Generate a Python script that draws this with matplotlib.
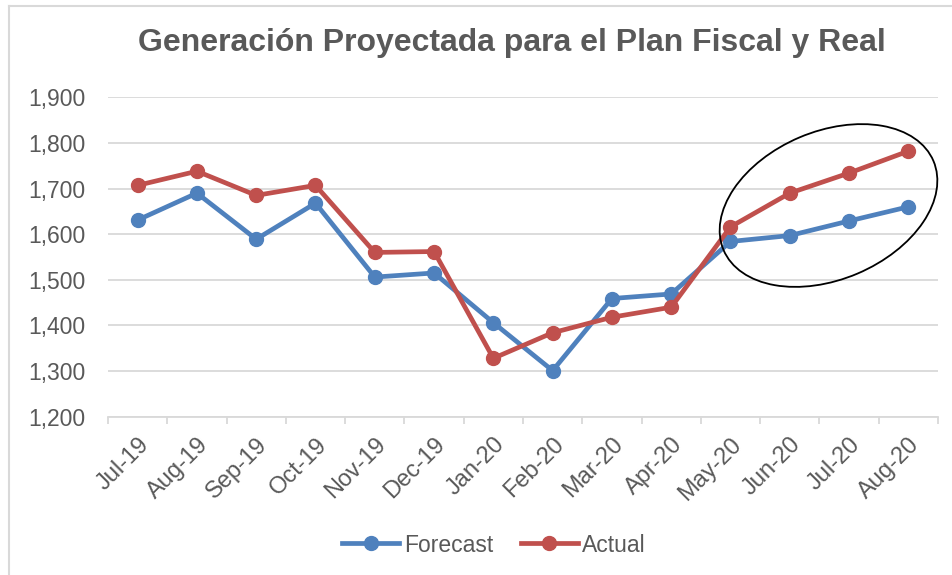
import matplotlib.pyplot as plt
from matplotlib.patches import Ellipse
from matplotlib.lines import Line2D
from matplotlib.ticker import FuncFormatter, FixedLocator

plt.rcParams['font.family'] = ['Liberation Sans', 'DejaVu Sans']

months = ['Jul-19', 'Aug-19', 'Sep-19', 'Oct-19', 'Nov-19', 'Dec-19', 'Jan-20',
          'Feb-20', 'Mar-20', 'Apr-20', 'May-20', 'Jun-20', 'Jul-20', 'Aug-20']
forecast = [1631, 1690, 1589, 1668, 1506, 1515, 1406,
            1301, 1459, 1469, 1584, 1597, 1629, 1660]
actual = [1707, 1738, 1685, 1707, 1560, 1562, 1328,
          1384, 1418, 1440, 1616, 1690, 1734, 1782]

W, H = 953, 575
fig = plt.figure(figsize=(W / 100, H / 100), dpi=100)
ax = fig.add_axes([108 / W, (H - 416.7) / H, (938 - 108) / W, (416.7 - 97.3) / H])

gray = '#595959'
blue = '#4F81BD'
red = '#C0504D'

x = list(range(len(months)))
ax.plot(x, forecast, color=blue, lw=3.4, marker='o', ms=10, zorder=3)
ax.plot(x, actual, color=red, lw=3.4, marker='o', ms=10, zorder=4)

ax.set_xlim(-0.5, len(months) - 0.5)
ax.set_ylim(1200, 1900)
ax.set_yticks(range(1200, 1901, 100))
ax.yaxis.set_major_formatter(FuncFormatter(lambda v, p: f'{int(v):,}'))
ax.grid(axis='y', color='#D9D9D9', lw=1.3)
ax.set_axisbelow(True)

ax.set_xticks(x)
ax.set_xticklabels(months, rotation=45, ha='right', rotation_mode='anchor')
ax.xaxis.set_minor_locator(FixedLocator([i - 0.5 for i in range(len(months) + 1)]))
ax.tick_params(axis='x', which='major', length=0, pad=12, labelsize=17, colors=gray)
ax.tick_params(axis='x', which='minor', length=5, color='#D9D9D9', width=1.3)
ax.tick_params(axis='y', length=0, pad=16.5, labelsize=16.5, colors=gray)

for s in ['top', 'right', 'left']:
    ax.spines[s].set_visible(False)
ax.spines['bottom'].set_color('#D9D9D9')
ax.spines['bottom'].set_linewidth(1.3)

fig.text(512 / W, 1 - 43 / H, 'Generación Proyectada para el Plan Fiscal y Real',
         ha='center', va='center', fontsize=23, fontweight='bold', color=gray)

# circle around the last months
ell = Ellipse((828.5 / 100, (H - 205.5) / 100), 2.28, 1.48, angle=23,
              transform=fig.dpi_scale_trans, fill=False, ec='black', lw=1.3, zorder=6)
fig.add_artist(ell)

handles = [Line2D([], [], color=blue, lw=3.4, marker='o', ms=10),
           Line2D([], [], color=red, lw=3.4, marker='o', ms=10)]
leg = fig.legend(handles, ['Forecast', 'Actual'], loc='center', ncol=2,
                 bbox_to_anchor=(494 / W, 1 - 545 / H), frameon=False,
                 fontsize=16.5, handlelength=2.5, handletextpad=0.2, columnspacing=1.2)
for t in leg.get_texts():
    t.set_color(gray)

# chart frame
fig.add_artist(Line2D([9 / W, 9 / W], [0, 1 - 6 / H], color='#D9D9D9', lw=1.5))
fig.add_artist(Line2D([9 / W, 1], [1 - 6 / H, 1 - 6 / H], color='#D9D9D9', lw=1.5))

fig.savefig('out.png', dpi=100)
